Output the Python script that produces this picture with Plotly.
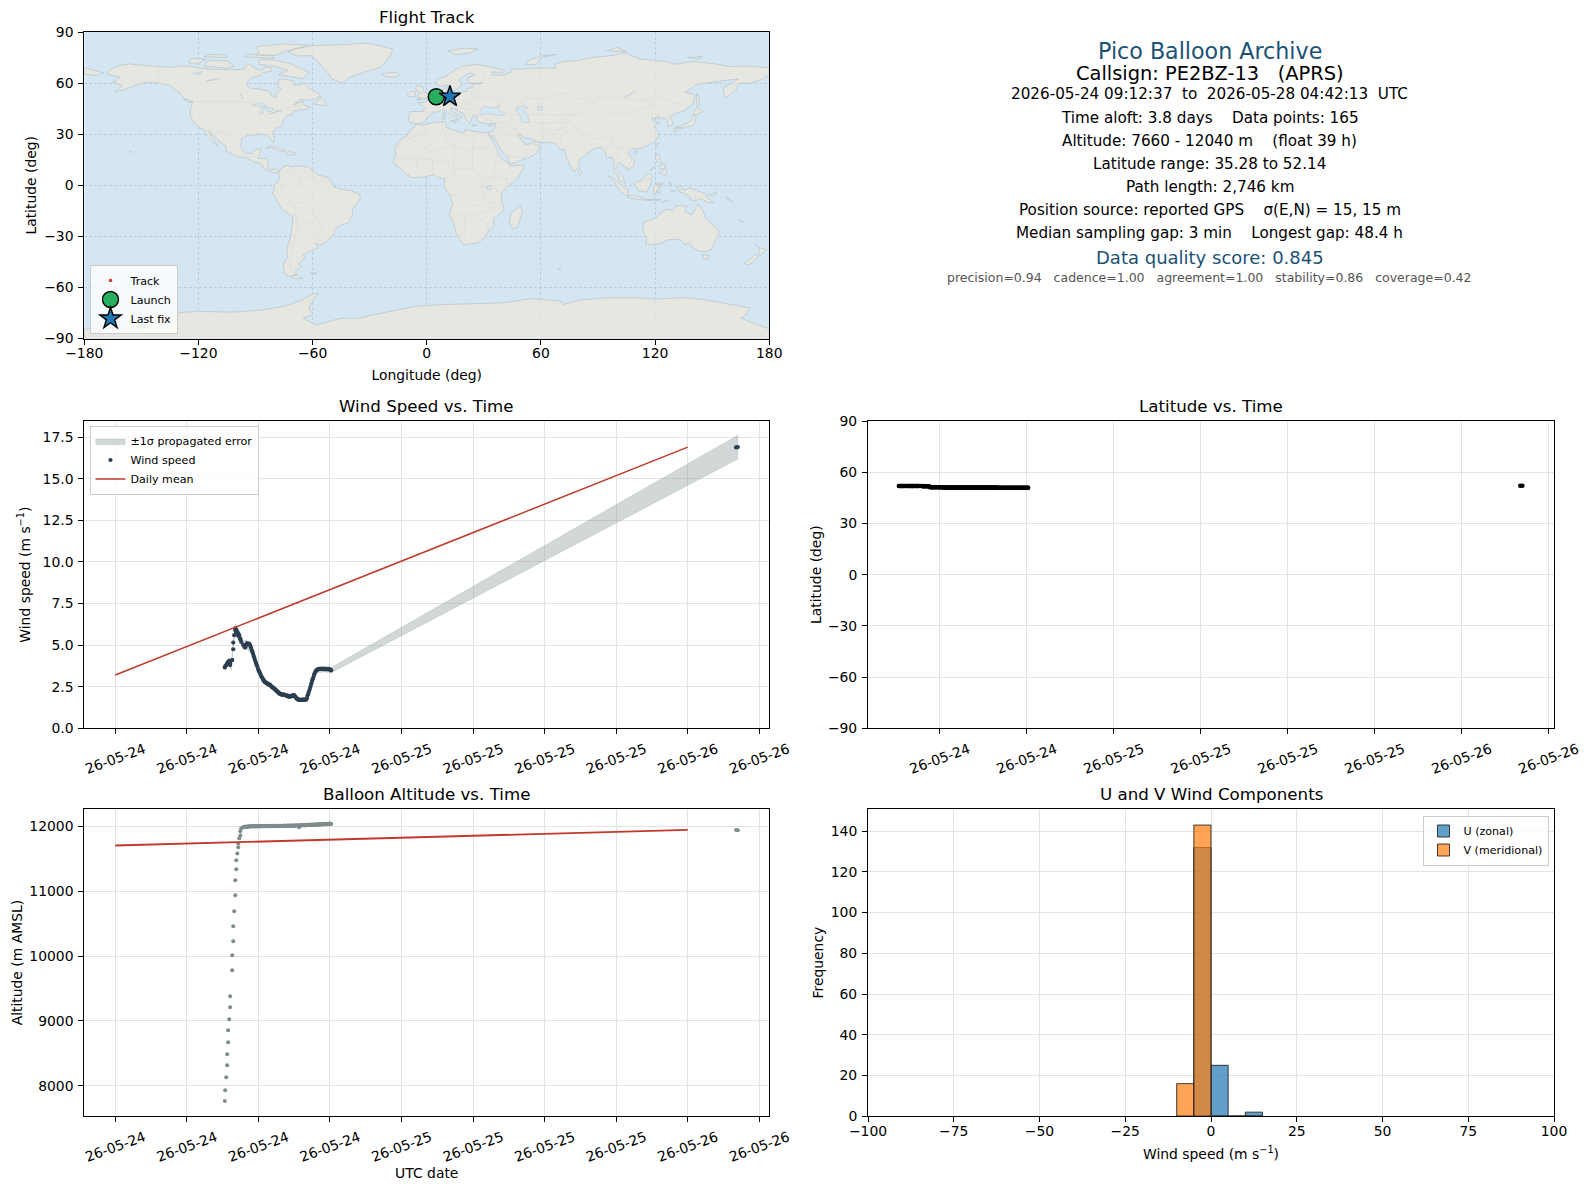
import pandas as pd
import plotly.graph_objects as go

W, H = 1589, 1189
FONT = "DejaVu Sans"

# ---------- time series (hours after 2026-05-24 00:00 UTC) ----------
ascent_hours = [9.18,9.21,9.30,9.38,9.38,9.46,9.46,9.55,9.63,9.63,9.80,9.80,9.89,9.89,9.97,10.06,10.06,10.14,10.14,10.23,10.31,10.31,10.39,10.48,10.48,10.56,10.73]
float_hours = [10.78,10.83,10.89,10.94,11.00,11.05,11.11,11.16,11.21,11.27,
11.32,11.38,11.43,11.49,11.54,11.60,11.65,11.70,11.76,11.81,
11.87,11.92,11.98,12.03,12.09,12.14,12.19,12.25,12.30,12.36,
12.41,12.47,12.52,12.58,12.63,12.68,12.74,12.79,12.85,12.90,
12.96,13.01,13.07,13.12,13.17,13.23,13.28,13.34,13.39,13.45,
13.50,13.56,13.61,13.66,13.72,13.77,13.83,13.88,13.94,13.99,
14.05,14.10,14.15,14.21,14.26,14.32,14.37,14.43,14.48,14.54,
14.59,14.64,14.70,14.75,14.81,14.86,14.92,14.97,15.03,15.08,
15.13,15.19,15.24,15.30,15.35,15.41,15.46,15.52,15.57,15.62,
15.68,15.73,15.79,15.84,15.90,15.95,16.01,16.06,16.11,16.17,
16.22,16.28,16.33,16.39,16.44,16.50,16.55,16.60,16.66,16.71,
16.77,16.82,16.88,16.93,16.99,17.04,17.09,17.15,17.20,17.26,
17.31,17.37,17.42,17.48,17.53,17.58,17.64,17.69,17.75,17.80,
17.86,17.91,17.97,18.02,18.07,18.10]
last_hours = [52.05,52.20]

ascent_wind = [3.66,3.72,3.80,3.92,3.85,4.00,3.95,4.05,3.90,3.80,4.10,4.10,4.75,5.15,5.60,6.00,5.90,5.95,5.75,5.80,5.70,5.55,5.60,5.40,5.35,5.20,5.00]
float_wind = [5.00,4.90,4.85,4.95,5.05,5.10,5.10,5.08,5.08,5.05,
4.95,4.85,4.72,4.62,4.50,4.35,4.25,4.12,4.00,3.90,
3.78,3.70,3.55,3.45,3.38,3.30,3.22,3.12,3.05,2.98,
2.90,2.85,2.80,2.76,2.74,2.72,2.70,2.66,2.65,2.62,
2.62,2.58,2.52,2.50,2.46,2.42,2.40,2.38,2.34,2.30,
2.26,2.22,2.20,2.16,2.12,2.08,2.06,2.05,2.03,2.03,
2.02,2.02,2.03,2.00,1.98,1.98,1.96,1.94,1.92,1.90,
1.90,1.91,1.92,1.92,1.93,1.96,1.98,2.00,1.96,1.90,
1.85,1.80,1.76,1.73,1.72,1.72,1.71,1.71,1.71,1.71,
1.72,1.71,1.72,1.72,1.71,1.72,1.73,1.80,1.95,2.05,
2.18,2.30,2.42,2.55,2.70,2.85,2.95,3.05,3.20,3.30,
3.38,3.45,3.50,3.52,3.54,3.56,3.58,3.58,3.57,3.58,
3.58,3.57,3.56,3.58,3.57,3.55,3.56,3.56,3.55,3.56,
3.55,3.55,3.54,3.53,3.50,3.48]
last_wind = [16.88,16.90]

ascent_alt = [7769,7933,8133,8318,8487,8672,8856,9026,9210,9379,9779,10010,10226,10456,10687,10933,11164,11333,11472,11579,11672,11733,11810,11856,11918,11964,11980]
float_alt = [11984,11988,11985,11990,11992,11986,11993,11990,11995,11992,
11996,11993,11998,11995,11992,11998,11995,11999,11996,11993,
11998,11995,12000,11996,11999,11994,12001,11997,12000,11996,
11999,11995,12002,11998,12000,11996,12003,11998,12001,11997,
12002,11999,12003,11996,12001,11998,12004,12000,12002,11997,
12003,12000,12005,12001,11998,12004,12000,12006,12002,11999,
12005,12001,12007,12003,12000,12006,12002,12008,12004,12001,
12007,12003,12009,12005,12008,12002,12010,12006,12009,12004,
12012,12007,12013,12009,12006,11980,12012,12008,12014,12010,
12015,12011,12017,12012,12016,12010,12018,12014,12019,12015,
12020,12016,12022,12018,12015,12021,12017,12023,12019,12024,
12020,12025,12021,12026,12022,12018,12027,12023,12028,12024,
12029,12025,12030,12034,12028,12033,12029,12036,12031,12027,
12033,12029,12040,12031,12034,12032]
last_alt = [11940,11936]

early_lat = [51.95,51.95,51.94,51.94,51.93,51.93,51.93,51.92,51.92,51.92,51.91,51.91,51.91,51.90,51.90,51.90,51.89,51.89,51.89,51.88,51.88,51.88,51.87,51.87,51.87,51.86,51.86,51.86,51.85,51.85,51.85,51.84,51.84,51.84,51.83,51.83,51.83]
late_lat = [51.18,51.18,51.17,51.17,51.16,51.16,51.16,51.15,51.15,51.15,51.14,51.14,51.14,51.13,51.13,51.13,51.12,51.12,51.12,51.11,51.11,51.11,51.10,51.10,51.10,51.10,51.09,51.09,51.09,51.09,
51.08,51.08,51.08,51.08,51.07,51.07,51.07,51.07,51.06,51.06,51.06,51.06,51.05,51.05,51.05,51.05,51.05,51.04,51.04,51.04,51.04,51.04,51.03,51.03,51.03,51.03,51.03,51.02,51.02,51.02,
51.02,51.02,51.01,51.01,51.01,51.01,51.01,51.01,51.00,51.00,51.00,51.00,51.00,51.00,50.99,50.99,50.99,50.99,50.99,50.99,50.98,50.98,50.98,50.98,50.98,50.98,50.98,50.97,50.97,50.97,
50.97,50.97,50.97,50.97,50.96,50.96,50.96,50.96,50.96,50.96,50.96,50.96,50.96,50.95,50.95,50.95,50.95,50.95,50.95,50.95,50.95,50.95,50.95,50.94,50.94,50.94,50.94,50.94,50.94,50.94,
50.94,50.93,50.93,50.93,50.93,50.93]
last_lat = [52.12,52.14]

band_hours = [9.18,9.55,9.72,9.89,10.06,10.31,10.73,11.0,11.4,11.8,12.2,12.8,13.4,14.0,15.0,15.6,16.0,16.4,16.9,17.5,18.1,52.2]
band_low  = [3.48,3.85,3.50,4.90,5.70,5.28,4.75,4.80,4.48,3.70,3.05,2.53,2.27,1.93,1.88,1.62,1.64,2.43,3.34,3.39,3.34,16.18]
band_high = [3.84,4.25,3.90,5.40,6.30,5.82,5.25,5.30,4.92,4.10,3.35,2.77,2.49,2.13,2.08,1.80,1.82,2.67,3.66,3.73,3.66,17.62]

mean_hours = [0,48]
mean_wind = [3.2,16.9]
mean_alt = [11700,11940]

# ---------- histogram ----------
bin_centers = [-7.5,-2.5,2.5,7.5,12.5]
u_counts = [0,132,25,0,2]
v_counts = [16,143,0,0,0]

# ---------- axis ticks ----------
wind_tick_hours = [0,6,12,18,24,30,36,42,48,54]
wind_tick_text = ["26-05-24"]*4+["26-05-25"]*4+["26-05-26"]*2
lat_tick_hours = [12,18,24,30,36,42,48,54]
lat_tick_text = ["26-05-24"]*2+["26-05-25"]*4+["26-05-26"]*2
lon_ticks = [-180,-120,-60,0,60,120,180]
lat_ticks = [-90,-60,-30,0,30,60,90]

# ---------- header text ----------
header_lines = [
 "Pico Balloon Archive",
 "Callsign: PE2BZ-13 \u00a0 (APRS)",
 "2026-05-24 09:12:37 \u00a0to\u00a0 2026-05-28 04:42:13 \u00a0UTC",
 "Time aloft: 3.8 days \u00a0 \u00a0Data points: 165",
 "Altitude: 7660 - 12040 m \u00a0 \u00a0(float 39 h)",
 "Latitude range: 35.28 to 52.14",
 "Path length: 2,746 km",
 "Position source: reported GPS \u00a0 \u00a0\u03c3(E,N) = 15, 15 m",
 "Median sampling gap: 3 min \u00a0 \u00a0Longest gap: 48.4 h",
 "Data quality score: 0.845",
 "precision=0.94 \u00a0 cadence=1.00 \u00a0 agreement=1.00 \u00a0 stability=0.86 \u00a0 coverage=0.42",
]
header_sizes = [22.2,19.4,15.2,15.2,15.2,15.2,15.2,15.2,15.2,18,12.5]
header_colors = ["#1a5276","#000000"]+["#000000"]*7+["#1a5276","#555555"]
header_y = [51,73,94,118,141,164,187,210,233,257,278]

# ---------- flight track ----------
launch_lon, launch_lat = [5.0],[52.0]
last_lon, last_lat_fix = [12.2],[52.1]
track_lon = [5.0,5.6,6.2,6.8,7.4,8.0,8.6,9.2,9.8,10.4,11.0,11.6,12.2]
track_lat = [52.0,51.9,51.8,51.6,51.4,51.2,51.1,51.0,51.0,51.1,51.4,51.8,52.1]

# ---------- base map outlines (lon, lat) ----------
north_america = [(-168,65.6),(-166,68.3),(-162,70.2),(-156.5,71.3),(-150,70.5),(-141,69.6),(-135,69.3),(-128,70.2),(-124,69.8),(-115,68.2),(-108,68),(-101,67.8),(-96,68.2),(-94,71.5),(-90.5,69),(-87,67.5),(-85,69.5),(-81.5,69),(-81.5,67),(-86,66.2),(-87.5,64.5),(-92,63),(-94.5,60.5),(-94.5,58.8),(-92.5,57),(-88,56.5),(-82.5,55.2),(-82,52.9),(-79.5,51.3),(-79,54.5),(-76.7,56.5),(-78.5,58.8),(-77.5,62.4),(-73.5,62.2),(-70,61),(-69.5,58.8),(-66,58.8),(-64.5,60.3),(-61.5,56.5),(-57.5,54.5),(-55.8,52.3),(-60,50.2),(-66.5,50.2),(-70,47.3),(-65,49.2),(-64.5,47),(-61,46),(-64,44.5),(-66.5,44.3),(-70,43.7),(-70.5,41.7),(-74,40.6),(-75.5,38),(-76,35),(-78.5,33.8),(-81,31.8),(-80,27),(-80.5,25.2),(-82,27),(-83.5,29.8),(-85,29.7),(-89.5,30.2),(-89.5,29.2),(-93.5,29.7),(-97.3,27.5),(-97.7,22.5),(-95.5,18.8),(-92,18.6),(-90.5,20.8),(-87,21.5),(-88,18),(-88.8,15.9),(-84,15.8),(-83.3,14.9),(-83.7,11),(-82,9),(-79.5,9.6),(-77.3,8.6),(-78.5,7.7),(-80.3,7.3),(-83,8.3),(-85.7,10),(-87.5,13),(-91.5,14),(-94.5,16.2),(-99,16.6),(-105.5,20),(-105.5,22.5),(-109,26),(-112.5,29.5),(-114.7,31.7),(-112.5,27.5),(-109.8,23),(-112,24.8),(-115,28.5),(-117.2,32.5),(-120.5,34.5),(-122.5,37.5),(-124.3,40.3),(-124,46),(-122.8,49),(-127.5,51),(-130.3,54.7),(-135,58.5),(-140,59.8),(-146,60.8),(-151.5,59.3),(-158,56.5),(-164,54.7),(-160,58.5),(-165,60.5),(-161,63.5),(-166,64.5)]
south_america = [(-77.3,8.6),(-75.5,10.8),(-72,12),(-71.5,10.8),(-68,11.5),(-62,10.7),(-60,8.3),(-57,6),(-52,4.7),(-50,1),(-48.5,-1),(-44,-2.5),(-40,-3),(-35.3,-5.3),(-34.9,-8),(-37,-11),(-39,-14),(-39.2,-18),(-41,-22),(-44.8,-23.2),(-48.5,-26),(-49,-29),(-53,-33.7),(-56,-34.9),(-58.5,-34.2),(-57,-36.7),(-62,-39),(-65,-41),(-63.7,-42.5),(-67.5,-46),(-65.8,-47.5),(-69,-50.5),(-68.4,-52.4),(-72,-53.5),(-74.5,-52),(-75.5,-47),(-73.2,-42),(-73.6,-37.3),(-71.5,-30),(-70.3,-18.5),(-76.2,-14),(-79.5,-7.5),(-81.3,-4.5),(-80,-2.5),(-80.3,0.5),(-78.7,1.5),(-77.3,4),(-77.9,7.2)]
africa = [(-5.9,35.8),(-2,35.2),(3,36.9),(10,37.3),(10.2,34),(15,32.3),(19.5,30.4),(20,32.7),(25,31.7),(29,31),(32.3,31.2),(32.5,30),(33.5,27.8),(35.5,24),(37.2,21),(37.3,18.5),(39.5,15.5),(43.2,12.5),(43.3,11.4),(51,11.9),(51,10.3),(47.8,4.2),(41.5,-1.7),(39,-5.5),(39.3,-8.5),(40.6,-14.5),(35,-20),(35.5,-24),(32.8,-26),(31,-30),(27,-33.8),(20,-34.8),(18.3,-33.5),(15,-27),(14.4,-22.5),(11.8,-17.3),(13.7,-11),(12.2,-5.8),(9,-1),(9.6,4),(6,4.3),(4.3,6.3),(-2,4.8),(-7.5,4.4),(-11,6.8),(-13.5,9.5),(-16.8,12.4),(-17.5,14.7),(-16,19),(-17,21),(-14.5,26.2),(-10,29.5),(-9.7,31.5),(-6.5,34.3)]
eurasia = [(-5.6,36),(-9,37),(-9.5,38.8),(-8.8,43.3),(-1.8,43.4),(-1.2,46),(-4.7,48.4),(-1.5,48.7),(1.5,50.5),(4,52),(6,53.4),(8.5,53.8),(8.2,56.5),(10.6,57.6),(10.2,55),(11,54),(14,54),(18.5,54.7),(21,55.3),(21.3,57),(24,57.2),(23.7,59.2),(29.5,60),(23,60),(21.3,61),(21.5,63),(25.3,65),(22,65.8),(17.5,62.5),(17.2,60.7),(18.8,59.8),(16.5,57),(14.2,55.5),(12.8,55.5),(11.2,59),(8,58),(5.5,59),(5,62),(10,64),(14.5,67.5),(19,70),(25.5,71),(31,70),(41,67.5),(40,66),(34,66.6),(34.8,64.6),(38,64.8),(40.5,64.7),(44,66.2),(44,68),(54,68.5),(60.5,69),(68,68.5),(67,71),(72.5,73),(74,72.8),(80.5,73.5),(87,75),(98,76.3),(104,77.7),(113,74),(127,72.5),(130,71),(140,72.7),(150,71.5),(160,69.7),(170,70),(180,69),(180,65),(177,62.5),(170,60),(164,59.8),(162.5,56),(156.8,51),(155.7,57),(164,62.5),(156,61.5),(142.5,59.3),(135.5,54.7),(141,53),(140,48),(135,43.5),(130.7,42.3),(127.5,39.8),(129.4,37),(129,35.2),(126.3,34.5),(126.6,37.7),(125,39.6),(121.3,39),(122,40.5),(118,39),(119.5,37.5),(122.5,37),(119.3,35),(121.8,31),(121.7,28.3),(119,25),(114,22.3),(110.5,21.2),(108,21.5),(105.8,19),(109,15),(109,11.5),(105,8.6),(105,10.4),(101,13.3),(99.3,9.5),(103,5.5),(104.2,1.4),(101.3,2.9),(100.3,6.5),(98.3,8),(98.5,14),(97,16.5),(94.3,16),(94,19),(91.7,22.5),(89,21.8),(86.8,20.8),(82.3,16.6),(80.2,15.2),(80,11),(77.5,8),(75,12),(73,18),(72.6,21.2),(70.5,20.8),(69,22.5),(67.3,24.8),(61.7,25.1),(57,25.8),(56.5,27),(51.5,27.8),(49,30.4),(48,29.8),(50.2,26),(51.5,25),(51.6,24),(54,24.2),(56.3,26),(56.7,24.2),(59.8,22.5),(57.8,19),(55,17),(52,15.7),(45,12.8),(43.4,12.7),(42.8,16),(39,21),(37,25),(35,28),(34.9,29.5),(34.3,28),(32.7,29.9),(32.3,31.2),(34.3,31.3),(36,34.5),(36,36.5),(32,36.1),(30.5,36.4),(27.4,37),(26.3,39.4),(26.5,40.6),(24,40.8),(23.5,38),(22.8,36.5),(21.2,37.8),(19.4,41.5),(19.2,42),(13.7,45.5),(12.3,45),(14,42.5),(18.4,40),(16.8,39.2),(16,38),(15.7,40),(12.3,41.7),(10.3,43.5),(8.8,44.4),(6,43.1),(3.2,43.2),(3,41.9),(0,39.9),(-0.7,37.7),(-2.2,36.8)]
antarctica = [(-180,-84.3),(-148,-84),(-146,-76),(-135,-75),(-120,-74),(-102,-74.5),(-85,-73),(-75,-71),(-67,-68),(-60,-64),(-57,-63.3),(-60,-68),(-62,-72),(-60,-76),(-65,-78),(-58,-82),(-45,-78),(-35,-78),(-28,-76),(-15,-73),(-5,-71),(10,-70),(30,-69.5),(40,-69),(55,-66.5),(70,-68),(72,-70),(80,-67.5),(95,-66),(110,-66),(120,-66.8),(135,-66),(145,-67),(160,-70),(170,-72),(167,-77),(165,-78),(180,-84.3),(180,-90),(-180,-90)]
australia = [(114,-22),(116.5,-20.5),(119,-20),(122,-17.5),(126,-14),(129.5,-14.9),(131,-12.2),(136.8,-12),(135.5,-15),(139.5,-17.5),(141.7,-13),(142.5,-10.8),(145.3,-15),(146.3,-19),(149.5,-22.3),(153.2,-26),(153.5,-29),(151,-34),(150,-37.5),(146.5,-39),(143,-38.7),(139.7,-36.5),(138,-33.5),(135.7,-34.8),(134,-32.6),(131,-31.5),(126,-32.3),(123.5,-34),(118,-35),(115,-34.3),(115.7,-31.5),(113.5,-26)]
islands = [
 [(-180,69),(-175,67.5),(-170,66),(-173,64.3),(-180,65.5)],
 [(-73,78.2),(-68,76),(-60,76),(-55,70),(-52,66),(-50,62.5),(-44,60),(-41,63),(-34,66),(-24,69.5),(-22,72),(-19,76),(-18,80),(-25,82),(-32,83.5),(-45,82.5),(-60,82),(-68,80.3)],
 [(-80,73.5),(-72,71.5),(-67,69),(-62,66.5),(-65,62.5),(-72,63.7),(-78,65),(-73,67.5),(-80,70),(-88,71),(-88,73.7)],
 [(-117,70),(-105,68.8),(-101,70),(-105,73),(-115,73.3)],
 [(-125,72),(-120,71.5),(-116,74),(-124,74.5)],
 [(-90,76.5),(-79,76.3),(-75,78.5),(-62,82.3),(-75,83),(-90,81.5),(-88,78)],
 [(-96,75.5),(-80,74.5),(-82,76),(-95,77)],
 [(-117,75.5),(-105,75),(-106,76.5),(-115,76.8)],
 [(-128,50.5),(-125,50.2),(-123.5,48.5),(-125.5,48.8)],
 [(-59,47.7),(-53,46.7),(-53,49),(-56,51.5)],
 [(-84.8,21.9),(-82,23.1),(-79,22.4),(-74.2,20.3),(-77.6,19.9),(-78,20.7),(-81.5,22.1),(-83.5,22)],
 [(-74.4,18.5),(-72.8,19.9),(-68.4,18.6),(-71.5,17.7)],
 [(-156,20.2),(-155,19.7),(-155.7,19)],
 [(-68.6,-52.6),(-65.2,-54.8),(-71,-54.5),(-70,-53)],
 [(-61,-51.5),(-58,-51.4),(-59,-52.3)],
 [(49.3,-12),(50.4,-15.5),(47.7,-24.8),(45.2,-25.5),(43.3,-22),(44.4,-16.3)],
 [(-5.5,50.1),(1.4,51.3),(1.7,52.7),(-1.5,55),(-2,57.6),(-5,58.6),(-6,56.5),(-3,54.5),(-4.5,53.3),(-5.2,51.8),(-3,51.3)],
 [(-10,51.8),(-6.2,52.2),(-6,55),(-8.5,55.2),(-10,53.5)],
 [(-24,65.5),(-22,64),(-18,63.4),(-14,64.7),(-16,66.4),(-21,66)],
 [(11,79),(20,80.5),(27,80),(22,77.5),(15,76.7)],
 [(52,71),(57,70.7),(60,75),(68.5,76.8),(60,76),(54,73.5)],
 [(95,79),(105,78.5),(100,81)],
 [(137,75),(145,75.5),(142,74)],
 [(12.5,38),(15.5,38.2),(15,36.7)],
 [(8.3,41),(9.7,41),(9.5,39),(8.5,39)],
 [(8.7,42.5),(9.5,43),(9.4,41.5)],
 [(23.6,35.5),(26.3,35.2),(24.7,34.9)],
 [(32.4,35),(34.5,35.6),(33.5,34.7)],
 [(142,54.2),(143.2,52),(143.5,47),(142,46),(142,50)],
 [(140,42),(141.7,45.4),(145.3,43.3),(143,42),(141,41.5)],
 [(131,34.3),(135.5,35.6),(138.8,37.8),(140.2,41.2),(141.5,40.5),(141,37),(140,35),(136.5,34.3),(135,33.5),(132.5,34)],
 [(130,33.5),(131.7,33.6),(131,31.3),(130.2,31.3)],
 [(132.3,33.5),(134.5,34.3),(134,33.2),(132.8,32.8)],
 [(120.1,23),(121.5,25.2),(121.8,24.5),(120.8,22)],
 [(108.7,19.3),(110.5,20),(110.5,18.8),(109,18.2)],
 [(120.3,16),(120.7,18.5),(122.2,18.4),(122,16),(124,13),(121,13.7)],
 [(122,11.5),(125.5,12.5),(125,10),(123,9.5)],
 [(122,7.2),(123.5,8.5),(125.5,9.8),(126.5,7.5),(125.5,5.8),(124,6.8)],
 [(117.2,8.4),(119.5,11.3),(119.7,10.5),(117.8,8.5)],
 [(109,1.4),(113,3.2),(116.8,7),(119,5.2),(117.7,3.5),(118,1),(116.5,-1.5),(116,-4),(111,-3),(110,-1),(109,0)],
 [(95.3,5.6),(98,4.2),(103.5,-1),(106,-3),(105.8,-5.8),(104.5,-5.7),(101,-2.5),(98.7,1.7)],
 [(105.2,-6.7),(106.8,-6),(110.8,-6.4),(114.5,-7.8),(114.4,-8.7),(110,-8),(106.3,-7.4)],
 [(120,0.8),(125,1.6),(124,0.3),(120.5,0.3),(121.5,-1),(123.3,-1),(121.8,-2),(122.8,-4.5),(121.5,-4.5),(120.8,-2.7),(120.3,-5.5),(119.5,-5.4),(119,-3),(119.8,-0.5)],
 [(115,-8.3),(119,-8.3),(123,-8.3),(122.8,-8.8),(117,-9),(115,-8.8)],
 [(123.6,-10.3),(127,-8.4),(125,-9.5)],
 [(128,-3.2),(130.8,-3.3),(129,-2.8)],
 [(127.5,1.8),(128.7,1),(128,-0.8)],
 [(131,-0.8),(134,-0.8),(135,-3.3),(137.8,-1.5),(141,-2.6),(145,-4.3),(147.7,-6),(147,-6.8),(150.8,-10.3),(147.5,-10),(144,-7.7),(141,-9.2),(138,-8.3),(138.8,-7),(135,-4.4),(132.7,-4),(133.8,-2.3),(132,-2.5)],
 [(148.5,-5.6),(152,-4.2),(152,-5.5),(149.5,-6.3)],
 [(157,-7),(160,-9),(161,-10),(159,-8.2)],
 [(164,-20),(167,-22.2),(165.5,-21.8)],
 [(144.7,-40.7),(148.3,-41),(148,-43.2),(146,-43.5)],
 [(172.8,-34.5),(175.5,-36.8),(178.5,-37.7),(177,-39.5),(175.3,-41.6),(174.7,-39.5),(174.8,-38),(174,-35.5)],
 [(172.7,-40.5),(174.3,-41.5),(172.8,-43.8),(170.8,-45.9),(168.5,-46.6),(166.5,-45.8),(170.5,-42.8)],
 [(79.8,8.2),(80.2,9.8),(81.8,7.3),(80.7,5.9),(80,6.2)],
 [(69,-49),(70.5,-49.2),(69.5,-49.6)],
]
lakes = [
 [(28,41.5),(28.2,44),(30.5,46.4),(33,46),(35,45.3),(37.5,47),(38.7,47),(37,45),(41.5,42),(41.5,41.5),(38,41),(33,42),(29.5,41.2)],
 [(47,45),(51,47),(53,45.5),(51,44),(53,41),(54,37),(50.5,37),(49,38.5),(49.5,40.5),(47.5,43)],
 [(58.5,46),(61,46.5),(60.5,44),(58.5,44)],
 [(104,51.6),(109.5,55.7),(108,54),(106,52)],
 [(-92,46.7),(-88,48.7),(-85,47.8),(-85,46.6),(-88,46.6)],
 [(-87.7,42),(-86.2,42),(-85,45.8),(-87.5,45.5)],
 [(-84.5,46),(-80.5,45),(-81.7,43.2),(-83.5,43.5)],
 [(-83.3,41.7),(-79,42.8),(-79,43),(-83,42.2)],
 [(-79.7,43.4),(-76.2,43.5),(-76.5,44.2),(-79.2,43.9)],
 [(-123,65.5),(-118,66.8),(-119,65.2)],
 [(-116,61),(-109,62.7),(-113,62.3)],
 [(-98,53.8),(-96.5,50.5),(-97.5,53)],
 [(31.8,-0.2),(34,0),(33.5,-2.7),(32,-2.5)],
]
borders = [
 [(-123,49),(-95,49),(-88,48),(-83,45.5),(-82.5,42),(-79,43),(-75,45),(-70,46),(-67.5,47),(-67,45)],
 [(-141,69.6),(-141,60),(-135,58.5)],
 [(-117,32.5),(-107,31.5),(-103,29),(-97.3,25.9)],
 [(-92,14.5),(-91,17.5),(-89,18)],
 [(-83,8.5),(-83,11)],
 [(-72,12),(-72.5,7),(-67,6),(-67,1),(-70,-4),(-74,-7.5),(-70,-11),(-69,-16),(-70.3,-18.5)],
 [(-60,8.3),(-60,5),(-64,4),(-67,1)],
 [(-52,4.7),(-54,2.5),(-58,1.5),(-60,5)],
 [(-70,-11),(-65,-10),(-60,-14),(-58,-20),(-55,-24),(-54.5,-26),(-57.5,-30),(-58.5,-34)],
 [(-69,-16),(-68,-23),(-70,-33),(-72,-43),(-72,-50),(-69,-52)],
 [(-68,-23),(-62,-22),(-58,-20)],
 [(-80,-3),(-75,-1),(-78,1.5)],
 [(-17,21),(-12,26),(-8.7,27.7),(-1,32),(-2,35)],
 [(-8.7,27.7),(3,19),(12,23.5),(10,30),(8,33),(8.5,37)],
 [(12,23.5),(15,23),(24,20),(25,31.5)],
 [(24,20),(24,10),(27.5,5),(31,3.7),(35,4.5),(42,4),(41.5,-1.5)],
 [(25,22),(37,22)],
 [(-16.8,16),(-5,16),(3,15),(14,13),(15,23)],
 [(-5,16),(-5,10),(-3,5)],
 [(3,15),(3,6.3)],
 [(14,13),(15,7),(9.6,4)],
 [(24,10),(15,10)],
 [(12.2,-5.8),(17,-6),(22,-11),(28,-12),(30,-8),(29,-1),(31,3.7)],
 [(40.6,-10.5),(34,-10),(30,-8)],
 [(14.4,-18),(23,-18),(33,-15),(40.6,-10.5)],
 [(20,-18),(20,-29),(17,-29)],
 [(25,-18),(32,-22.5),(32,-26)],
 [(29,-1),(34,-1),(39,-5)],
 [(35,4.5),(36,14),(39,15)],
 [(-1.8,43.4),(3,42.5)],
 [(-9,42),(-7,41.5),(-7,37)],
 [(3,50.5),(6,49.5),(8,49),(7.5,47.5),(6,46),(7.5,44)],
 [(6,53.4),(6,50.5)],
 [(8.5,54.8),(14,54),(14.8,51),(12.5,50.3),(13,47.5),(7.5,47.5)],
 [(14.8,51),(18.5,49.5),(23,49),(24,51),(23.5,54),(21,55.3)],
 [(13,47.5),(17,48),(22,48),(28,45.5),(29,45)],
 [(13.7,45.5),(19,45),(22.5,44),(28,43.8)],
 [(23,41.3),(26.3,41.7),(28,42)],
 [(19.4,42),(21,41),(23,41.3)],
 [(24,51),(32,52),(40,49.5),(38,47)],
 [(23.5,54),(28,56),(28,59.5)],
 [(31,70),(29,66),(31,62),(28,60.5)],
 [(20,69),(24,66),(25,65)],
 [(13,64),(12,60),(11.2,59)],
 [(40,43.5),(44,42),(48,41.5)],
 [(26.3,41.7),(36,36.7),(42,37),(44.5,39.5),(43,41)],
 [(42,37),(45,34),(48,30)],
 [(36,32.5),(39,32),(42,37)],
 [(39,32),(44,29),(48,29)],
 [(55,24),(52,19),(52,16),(43,17)],
 [(44.5,39.5),(46,38),(48,38.5)],
 [(46,35),(48,30)],
 [(61,25.5),(61,31),(61,36.5),(54,37.5)],
 [(61,31),(70,33),(74,37),(67,37),(61,36)],
 [(61.7,25.1),(67,30),(70,33)],
 [(71,24),(70,28),(74,32),(78,35),(79,32),(88,27),(92,28),(97,28),(98,24),(93,22)],
 [(47,45),(51,51),(61,51),(72,54),(80,51),(87,49),(92,51),(98,52),(107,50),(115,50),(120,53),(127,50),(131,48),(135,48)],
 [(87,49),(80,42),(74,40),(74,37)],
 [(80,42),(67,41),(57,42),(53,41)],
 [(87,49),(96,43),(105,42),(112,45),(120,47),(115,50)],
 [(130.7,42.3),(125,40),(124.5,40)],
 [(126.5,38.2),(128.5,38.6)],
 [(98,24),(102,22),(108,21.5)],
 [(102,22),(105,18),(107.5,15),(106,11),(103,11)],
 [(98.5,14),(101,18),(100,20.5),(102,22)],
 [(101,6.5),(102.5,6)],
 [(114,4),(116,4.5),(117.7,4)],
 [(141,-2.6),(141,-9.2)],
 [(109.5,1.5),(114,2),(117.7,4)],
]

def outline(rings):
    xs, ys = [], []
    for ring in rings:
        xs += [p[0] for p in ring] + [ring[0][0], None]
        ys += [p[1] for p in ring] + [ring[0][1], None]
    return xs, ys

def lines(paths):
    xs, ys = [], []
    for path in paths:
        xs += [p[0] for p in path] + [None]
        ys += [p[1] for p in path] + [None]
    return xs, ys

def to_time(hours):
    return pd.Timestamp("2026-05-24") + pd.to_timedelta(hours, unit="h")

all_hours = ascent_hours + float_hours + last_hours
all_time = to_time(all_hours)
all_wind = ascent_wind + float_wind + last_wind
all_alt = ascent_alt + float_alt + last_alt
all_lat = early_lat + late_lat + last_lat
mean_time = to_time(mean_hours)
band_time = to_time(band_hours)
band_x = list(band_time) + list(band_time[::-1])
band_y = band_high + band_low[::-1]

DARK = "#2c3e50"
GREY = "#7f8c8d"
RED = "#c0392b"
GRID = "#e3e3e3"
WATER = "#d4e6f1"
MAP_GRID = "rgba(110,125,135,0.22)"

fig = go.Figure()

# Map
lx, ly = outline([north_america, south_america, africa, eurasia, antarctica, australia] + islands)
fig.add_trace(go.Scatter(x=lx, y=ly, mode="lines", fill="toself", fillcolor="rgba(239,232,221,0.72)",
    line=dict(color="#bcc7cc", width=0.8), hoverinfo="skip", showlegend=False, xaxis="x", yaxis="y"))
bx, by = lines(borders)
fig.add_trace(go.Scatter(x=bx, y=by, mode="lines", line=dict(color="#d9dbd8", width=0.7),
    hoverinfo="skip", showlegend=False, xaxis="x", yaxis="y"))
wx, wy = outline(lakes)
fig.add_trace(go.Scatter(x=wx, y=wy, mode="lines", fill="toself", fillcolor=WATER,
    line=dict(color="#bcc7cc", width=0.6), hoverinfo="skip", showlegend=False, xaxis="x", yaxis="y"))
fig.add_trace(go.Scatter(x=track_lon, y=track_lat, mode="markers", name="Track",
    marker=dict(color=RED, size=3.5), legend="legend", xaxis="x", yaxis="y"))
fig.add_trace(go.Scatter(x=launch_lon, y=launch_lat, mode="markers", name="Launch",
    marker=dict(color="#27ae60", size=16, symbol="circle", line=dict(color="black", width=1.4)),
    legend="legend", xaxis="x", yaxis="y"))
fig.add_trace(go.Scatter(x=last_lon, y=last_lat_fix, mode="markers", name="Last fix",
    marker=dict(color="#1f77b4", size=16, symbol="star", line=dict(color="black", width=1.4)),
    legend="legend", xaxis="x", yaxis="y"))

# Wind
fig.add_trace(go.Scatter(x=band_x, y=band_y, mode="lines", fill="toself", name="\u00b11\u03c3 propagated error",
    fillcolor="rgba(127,140,141,0.35)", line=dict(color="rgba(127,140,141,0.25)", width=0.8),
    hoverinfo="skip", legend="legend2", xaxis="x2", yaxis="y2"))
fig.add_trace(go.Scatter(x=all_time, y=all_wind, mode="markers", name="Wind speed",
    marker=dict(color=DARK, size=4.2), legend="legend2", xaxis="x2", yaxis="y2"))
fig.add_trace(go.Scatter(x=mean_time, y=mean_wind, mode="lines", name="Daily mean",
    line=dict(color=RED, width=1.5), legend="legend2", xaxis="x2", yaxis="y2"))

# Latitude
fig.add_trace(go.Scatter(x=all_time, y=all_lat, mode="markers", name="Latitude",
    marker=dict(color="black", size=4.5), showlegend=False, xaxis="x3", yaxis="y3"))

# Altitude
fig.add_trace(go.Scatter(x=all_time, y=all_alt, mode="markers", name="Altitude",
    marker=dict(color=GREY, size=4), showlegend=False, xaxis="x4", yaxis="y4"))
fig.add_trace(go.Scatter(x=mean_time, y=mean_alt, mode="lines", name="Daily mean altitude",
    line=dict(color=RED, width=1.8), showlegend=False, xaxis="x4", yaxis="y4"))

# Histogram
fig.add_trace(go.Bar(x=bin_centers, y=u_counts, width=5, name="U (zonal)",
    marker=dict(color="rgba(31,119,180,0.7)", line=dict(color="rgba(20,20,20,0.8)", width=1)),
    legend="legend3", xaxis="x5", yaxis="y5"))
fig.add_trace(go.Bar(x=bin_centers, y=v_counts, width=5, name="V (meridional)",
    marker=dict(color="rgba(255,127,14,0.7)", line=dict(color="rgba(20,20,20,0.8)", width=1)),
    legend="legend3", xaxis="x5", yaxis="y5"))

def dom_x(a, b):
    return [a / W, b / W]

def dom_y(top, bottom):
    return [1 - bottom / H, 1 - top / H]

LEFT = (84.3, 769.2)
RIGHT = (868.0, 1554.0)
ROW1 = (32.0, 338.6)
ROW2 = (421.0, 728.3)
ROW3 = (809.0, 1116.2)

base = dict(showline=True, linecolor="black", linewidth=1, mirror=True, ticks="outside",
            ticklen=5, tickwidth=1, tickcolor="black", showgrid=True, gridcolor=GRID, gridwidth=1, zeroline=False,
            automargin=False, tickfont=dict(size=13.9, color="black"), title_font=dict(size=13.9, color="black"))

def time_axis(hours_range, tick_hours, tick_text, domain, anchor, title=None):
    d = dict(base)
    d.update(type="date", domain=domain, anchor=anchor, range=list(to_time(hours_range)),
             tickmode="array", tickvals=list(to_time(tick_hours)), ticktext=tick_text,
             tickangle=-20, ticklabelshift=29, ticklabelstandoff=2)
    if title:
        d["title"] = dict(text=title, standoff=1)
    return d

wind_xrange = [-2.6, 54.83]
lat_xrange = [7.05, 54.38]

layout = dict(
    template="none",
    width=W, height=H, margin=dict(l=0, r=0, t=0, b=0, pad=0), autosize=False,
    plot_bgcolor="white", paper_bgcolor="white", barmode="overlay",
    font=dict(family=FONT, color="black", size=13.9), hovermode="closest",
    shapes=[dict(type="rect", xref="x", yref="y", x0=-180, x1=180, y0=-90, y1=90, layer="below",
                 fillcolor=WATER, line=dict(width=0))],
    xaxis={**base, "domain": dom_x(*LEFT), "anchor": "y", "range": [-180, 180], "tickmode": "array",
           "tickvals": lon_ticks, "griddash": "3px,2px", "gridcolor": MAP_GRID, "gridwidth": 0.7,
           "ticklabelstandoff": -3, "title": dict(text="Longitude (deg)", standoff=9)},
    yaxis={**base, "domain": dom_y(*ROW1), "anchor": "x", "range": [-90, 90], "tickmode": "array",
           "tickvals": lat_ticks, "griddash": "3px,2px", "gridcolor": MAP_GRID, "gridwidth": 0.7,
           "ticklabelstandoff": 2, "title": dict(text="Latitude (deg)", standoff=4)},
    xaxis2=time_axis(wind_xrange, wind_tick_hours, wind_tick_text, dom_x(*LEFT), "y2"),
    yaxis2={**base, "domain": dom_y(*ROW2), "anchor": "x2", "range": [0, 18.47], "tickmode": "array",
            "tickvals": [0, 2.5, 5, 7.5, 10, 12.5, 15, 17.5], "tickformat": ".1f", "ticklabelstandoff": 2,
            "title": dict(text="Wind speed (m s<sup>\u22121</sup>)", standoff=8)},
    xaxis3=time_axis(lat_xrange, lat_tick_hours, lat_tick_text, dom_x(*RIGHT), "y3"),
    yaxis3={**base, "domain": dom_y(*ROW2), "anchor": "x3", "range": [-90, 90], "tickmode": "array",
            "tickvals": lat_ticks, "ticklabelstandoff": 2, "title": dict(text="Latitude (deg)", standoff=3)},
    xaxis4=time_axis(wind_xrange, wind_tick_hours, wind_tick_text, dom_x(*LEFT), "y4", "UTC date"),
    yaxis4={**base, "domain": dom_y(*ROW3), "anchor": "x4", "range": [7535, 12262], "tickmode": "array",
            "tickvals": [8000, 9000, 10000, 11000, 12000], "tickformat": "d", "ticklabelstandoff": 2,
            "title": dict(text="Altitude (m AMSL)", standoff=3)},
    xaxis5={**base, "domain": dom_x(*RIGHT), "anchor": "y5", "range": [-100, 100], "tickmode": "array",
            "tickvals": [-100, -75, -50, -25, 0, 25, 50, 75, 100], "ticklabelstandoff": -3,
            "title": dict(text="Wind speed (m s<sup>\u22121</sup>)", standoff=11)},
    yaxis5={**base, "domain": dom_y(*ROW3), "anchor": "x5", "range": [0, 150.9], "tickmode": "array",
            "tickvals": [0, 20, 40, 60, 80, 100, 120, 140], "ticklabelstandoff": 2,
            "title": dict(text="Frequency", standoff=3)},
    legend=dict(x=89.5 / W, y=1 - 334 / H, xanchor="left", yanchor="bottom", bgcolor="rgba(255,255,255,0.8)",
                bordercolor="#cccccc", borderwidth=1, font=dict(size=11.1), tracegroupgap=0, itemsizing="trace"),
    legend2=dict(x=89.5 / W, y=1 - 425.5 / H, xanchor="left", yanchor="top", bgcolor="rgba(255,255,255,0.8)",
                 bordercolor="#cccccc", borderwidth=1, font=dict(size=11.1), tracegroupgap=0),
    legend3=dict(x=1548.5 / W, y=1 - 815.5 / H, xanchor="right", yanchor="top", bgcolor="rgba(255,255,255,0.8)",
                 bordercolor="#cccccc", borderwidth=1, font=dict(size=11.1), tracegroupgap=0),
)

annotations = []
for text, dom, row in [("Flight Track", LEFT, ROW1), ("Wind Speed vs. Time", LEFT, ROW2),
                       ("Latitude vs. Time", RIGHT, ROW2), ("Balloon Altitude vs. Time", LEFT, ROW3),
                       ("U and V Wind Components", RIGHT, ROW3)]:
    annotations.append(dict(text=text, xref="paper", yref="paper", x=(dom[0] + dom[1]) / 2 / W,
                            y=1 - row[0] / H, xanchor="center", yanchor="bottom", yshift=3,
                            showarrow=False, font=dict(size=16.67, color="black")))
for text, size, color, y in zip(header_lines, header_sizes, header_colors, header_y):
    annotations.append(dict(text=text, xref="paper", yref="paper", x=1209.5 / W, y=1 - y / H,
                            xanchor="center", yanchor="middle", showarrow=False,
                            font=dict(size=size, color=color)))
layout["annotations"] = annotations
fig.update_layout(**layout)

fig.write_html("out.html", config={"displayModeBar": False},
               post_script="document.body.style.margin='0';document.documentElement.style.overflow='hidden';")
